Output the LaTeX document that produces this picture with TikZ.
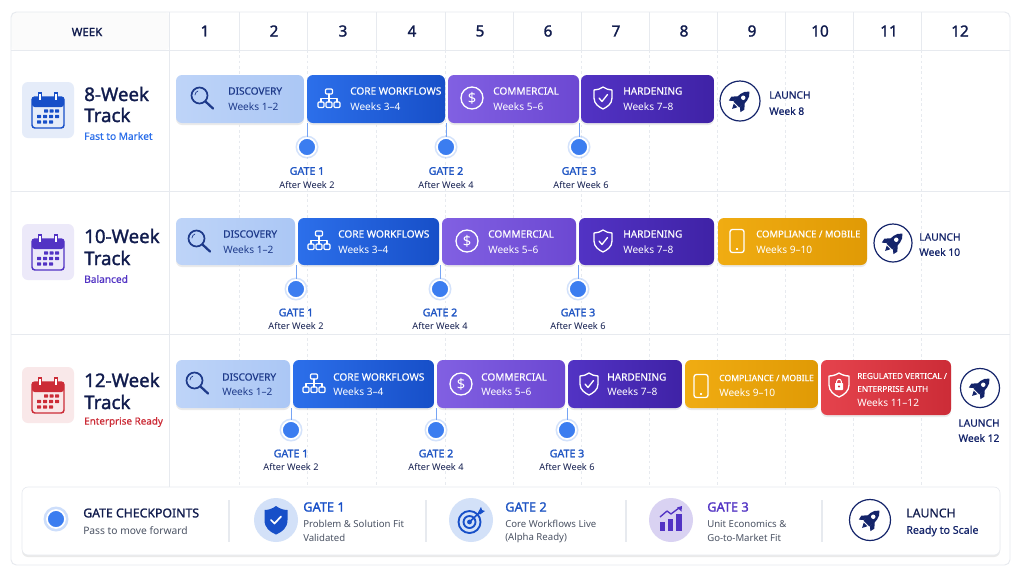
\documentclass[tikz,border=0pt]{standalone}
\usepackage{fontspec}
\setmainfont{Noto Sans}
\newfontfamily\med[FakeBold=0.6]{Noto Sans}
\newfontfamily\hvy[FakeBold=1.5]{Noto Sans}
\usetikzlibrary{shadows,calc}
\definecolor{navy}{HTML}{14246A}
\definecolor{ink}{HTML}{111C4E}
\definecolor{gridc}{HTML}{E7EAEF}
\definecolor{blueA}{HTML}{2C6FEA}\definecolor{blueB}{HTML}{174FC8}
\definecolor{skyA}{HTML}{BED4F8}\definecolor{skyB}{HTML}{ABC7F5}
\definecolor{purA}{HTML}{8160E2}\definecolor{purB}{HTML}{6C48D2}
\definecolor{vioA}{HTML}{5233C4}\definecolor{vioB}{HTML}{3F22A6}
\definecolor{ambA}{HTML}{F0AC12}\definecolor{ambB}{HTML}{E09A05}
\definecolor{redA}{HTML}{E5434D}\definecolor{redB}{HTML}{CC2C37}
\definecolor{dot}{HTML}{3B7DF0}
\definecolor{gatet}{HTML}{1F55C4}
\definecolor{discT}{HTML}{1E3A8A}
\definecolor{grayt}{HTML}{4A5263}
\definecolor{disc}{HTML}{D3E1F8}
\tikzset{
 x=0.75pt,y=-0.75pt,
 barbase/.style={rounded corners=4.5pt,inner sep=0pt,drop shadow={shadow xshift=0pt,shadow yshift=-1.5pt,opacity=.16}},
 sky/.style={barbase,left color=skyA,right color=skyB},
 blu/.style={barbase,left color=blueA,right color=blueB},
 pur/.style={barbase,left color=purA,right color=purB},
 vio/.style={barbase,left color=vioA,right color=vioB},
 amb/.style={barbase,left color=ambA,right color=ambB},
 rdd/.style={barbase,left color=redA,right color=redB},
 txt/.style={inner sep=0pt,anchor=west,align=left},
 ctxt/.style={inner sep=0pt,anchor=center,align=center},
 gridl/.style={draw=gridc,line width=.7pt},
 dashl/.style={draw=gridc,line width=.6pt,dash pattern=on 2pt off 2pt},
 gatedot/.style={circle,fill=dot,draw=white,line width=1.3pt,minimum size=13.5pt,inner sep=0pt},
 conn/.style={draw=dot!70,line width=.7pt},
 launchc/.style={circle,draw=navy,line width=.9pt,fill=white,inner sep=0pt},
 ic/.style={line width=1.1pt,line cap=round,line join=round},
}
\newcommand{\fsz}[1]{\fontsize{#1}{#1}\selectfont}
% name x y anchorstyle size colour text
\newcommand{\Lab}[7]{\node[#4] (#1) at (#2,#3) {\fsz{#5}\color{#6}#7};}
\newcommand{\Blk}[7]{% name x1 y1 x2 y2 style unused
 \pgfmathsetmacro{\bw}{(#4-#2)*0.75}\pgfmathsetmacro{\bh}{(#5-#3)*0.75}
 \pgfmathsetmacro{\bx}{(#2+#4)/2}\pgfmathsetmacro{\by}{(#3+#5)/2}
 \node[#6,minimum width=\bw pt,minimum height=\bh pt] (#1) at (\bx,\by) {};}
\newcommand{\BT}[6]{\Lab{#1a}{#2}{#3}{txt}{7.55}{#4}{\med #5}}
\newcommand{\Sub}[5]{\Lab{#1}{#2}{#3}{txt}{7.6}{#4}{#5}}
\newcommand{\Gate}[7]{% name x y bar labelY1 labelY2 text2
 \fill[dot,opacity=.22] (#2,#3) circle (11.5);
 \node[gatedot] (#1) at (#2,#3) {};
 \draw[conn] (#1.north) -- (#1.north |- #4.south);
 \Lab{#1a}{#2}{#5}{ctxt}{8}{gatet}{\hvy #7}
}
\newcommand{\GateSub}[4]{\Lab{#1}{#2}{#3}{ctxt}{6.9}{ink}{#4}}
\newcommand{\IMag}[3]{\begin{scope}[shift={(#1,#2)}]
 \draw[ic,#3,line width=1.3pt] (-2.5,-2.5) circle (8); \draw[ic,#3,line width=1.7pt] (3.5,3.5) -- (11,10.5);
 \draw[ic,#3,line width=.5pt] (-7,-3) .. controls (-7,-5) and (-5.5,-6.5) .. (-4,-7);\end{scope}}
\newcommand{\IHier}[3]{\begin{scope}[shift={(#1,#2)},ic,draw=#3,line width=.9pt]
 \draw[rounded corners=.8pt] (-3.5,-10) rectangle (3.5,-5);
 \draw (0,-5) -- (0,3) (-8,3) -- (-8,-.5) -- (8,-.5) -- (8,3);
 \foreach \q in {-8,0,8}{\draw[rounded corners=.8pt] (\q-3,3) rectangle (\q+3,8.5);}\end{scope}}
\newcommand{\IDol}[4]{\begin{scope}[shift={(#2,#3)}]
 \node[circle,draw=#4,line width=1pt,minimum size=16.5pt,inner sep=0pt] (#1) at (0,0) {\fsz{11}\color{#4}\$};\end{scope}}
\newcommand{\IShield}[3]{\begin{scope}[shift={(#1,#2)},ic,draw=#3,line width=1pt]
 \draw (0,-11) .. controls (3,-9) and (6,-8) .. (9,-8) -- (9,0) .. controls (9,6) and (4,9) .. (0,11) .. controls (-4,9) and (-9,6) .. (-9,0) -- (-9,-8) .. controls (-6,-8) and (-3,-9) .. (0,-11) -- cycle;
 \draw (-4,0) -- (-1,3.5) -- (4.5,-3.5);\end{scope}}
\newcommand{\IPhone}[2]{\begin{scope}[shift={(#1,#2)},ic,draw=white,line width=1pt]
 \draw[rounded corners=1.8pt] (-7,-11.5) rectangle (7,11.5);
 \draw (-.5,8) -- (.5,8);\end{scope}}
\newcommand{\ILock}[2]{\begin{scope}[shift={(#1,#2)},ic,draw=white,line width=1pt]
 \draw (0,-12) .. controls (3,-10) and (7,-9) .. (10,-9) -- (10,0) .. controls (10,6) and (5,10) .. (0,12) .. controls (-5,10) and (-10,6) .. (-10,0) -- (-10,-9) .. controls (-7,-9) and (-3,-10) .. (0,-12) -- cycle;
 \fill[white,rounded corners=.5pt] (-4,-2) rectangle (4,5);
 \draw[line width=.8pt] (-2.3,-2) -- (-2.3,-3.5) .. controls (-2.3,-6.5) and (2.3,-6.5) .. (2.3,-3.5) -- (2.3,-2);
 \fill[redB] (0,1.5) circle (1.1);\end{scope}}
\newcommand{\Rocket}[2]{\begin{scope}[shift={(#1,#2)},rotate=-45,scale=1.02]
 \fill[navy] (0,-13) .. controls (5.5,-9) and (5.5,-2) .. (4,5) -- (-4,5) .. controls (-5.5,-2) and (-5.5,-9) .. (0,-13) -- cycle;
 \fill[navy] (-4.6,-2) -- (-9,3) -- (-8,7.5) -- (-4,4) -- cycle;
 \fill[navy] (4.6,-2) -- (9,3) -- (8,7.5) -- (4,4) -- cycle;
 \fill[navy] (-2.5,6.2) -- (2.5,6.2) -- (0,11) -- cycle;
 \fill[white] (0,-4.5) circle (2.2);\end{scope}}
\newcommand{\Launch}[4]{\pgfmathsetmacro{\ds}{#4*.75}
 \node[launchc,minimum size=\ds pt] (#1) at (#2,#3) {};
 \Rocket{#2}{#3}}
\newcommand{\Cal}[3]{% x y colour
 \begin{scope}[shift={(#1,#2)}]
 \fill[#3!11,rounded corners=4.5pt] (-26,-28) rectangle (26,28);
 \fill[#3,rounded corners=2pt] (-16,-13) rectangle (16,-3);
 \draw[#3,line width=1.1pt,rounded corners=2.2pt] (-16,-13) rectangle (16,18);
 \foreach \q in {-8,8}{\fill[#3] (\q-1.8,-18) rectangle (\q+1.8,-9); \fill[white] (\q-.7,-16.5) rectangle (\q+.7,-10.5);}
 \foreach \q/\r in {-2/1,3.5/1,9/1,-9/6.5,-3/6.5,3/6.5,9/6.5,-9/12,-3/12,3/12}{\fill[#3,rounded corners=.4pt] (\q-2,\r-1.7) rectangle (\q+2,\r+1.7);}
 \end{scope}}
\begin{document}
\begin{tikzpicture}
\useasboundingbox (0,0) rectangle (1024,576);
\fill[white] (0,0) rectangle (1024,576);
% frame
\fill[white,rounded corners=4pt] (11,12) rectangle (1010,565);
\fill[black!1.5,rounded corners=3pt] (11,12) rectangle (169,50);
% grid
\foreach \q in {239,307,376,445,513,581,649,717,785,853,921}{
 \draw[gridl] (\q,12) -- (\q,50);
 \draw[dashl] (\q,50) -- (\q,487);}
\draw[gridl] (169,12) -- (169,487);
\draw[gridl] (11,50) -- (1010,50) (11,191) -- (1010,191) (11,334) -- (1010,334);
\draw[gridl,rounded corners=4pt] (11,12) rectangle (1010,565);
% header
\Lab{hw}{87}{32}{ctxt}{8.6}{ink}{\hvy WEEK}
\foreach \q/\n in {205/1,274/2,343/3,412/4,480/5,548/6,616/7,684/8,752/9,820/10,889/11,960/12}{
 \node[ctxt] (h\n) at (\q,31) {\fsz{11.5}\color{ink}\hvy \n};}
% row heads
\Cal{48}{110}{blueB}
\Lab{t1a}{84}{94}{txt}{14}{ink}{\hvy 8-Week}
\Lab{t1b}{84}{115}{txt}{14}{ink}{\hvy Track}
\Lab{t1c}{84}{136}{txt}{7.6}{blueA}{\med Fast to Market}
\Cal{48}{252}{vioA}
\Lab{t2a}{84}{236}{txt}{14}{ink}{\hvy 10-Week}
\Lab{t2b}{84}{258}{txt}{14}{ink}{\hvy Track}
\Lab{t2c}{84}{279}{txt}{7.6}{vioA}{\med Balanced}
\Cal{48}{395}{redB}
\Lab{t3a}{84}{380}{txt}{14}{ink}{\hvy 12-Week}
\Lab{t3b}{84}{402}{txt}{14}{ink}{\hvy Track}
\Lab{t3c}{84}{422}{txt}{7.4}{redB}{\med Enterprise Ready}
% ROW 1
\Blk{ra}{176}{75}{304}{123}{sky}{}
\Blk{rb}{307}{75}{445}{123}{blu}{}
\Blk{rc}{448}{75}{579}{123}{pur}{}
\Blk{rd}{581}{75}{714}{123}{vio}{}
\IMag{202}{98}{discT}
\BT{ra}{228}{91}{discT}{DISCOVERY}{}
\Sub{rab}{228}{107}{discT}{Weeks 1–2}
\IHier{329}{99}{white}
\BT{rb}{350}{91}{white}{CORE WORKFLOWS}{}
\Sub{rbb}{350}{107}{white}{Weeks 3–4}
\IDol{rci}{472}{98}{white}
\BT{rc}{493}{91}{white}{COMMERCIAL}{}
\Sub{rcb}{493}{107}{white}{Weeks 5–6}
\IShield{603}{98}{white}
\BT{rd}{623}{91}{white}{HARDENING}{}
\Sub{rdb}{623}{107}{white}{Weeks 7–8}
\Launch{rl}{740}{101}{40}
\Lab{rlt}{769}{95}{txt}{7.7}{navy}{\med LAUNCH}
\Lab{rlw}{769}{111}{txt}{7.7}{navy}{\med Week 8}
\Gate{g11}{307}{147}{ra}{171}{}{GATE 1}\GateSub{g11s}{307}{185}{After Week 2}
\Gate{g12}{446}{147}{rb}{171}{}{GATE 2}\GateSub{g12s}{446}{185}{After Week 4}
\Gate{g13}{579}{147}{rc}{171}{}{GATE 3}\GateSub{g13s}{581}{185}{After Week 6}
% ROW 2
\Blk{sa}{176}{218}{295}{265}{sky}{}
\Blk{sb}{298}{218}{439}{265}{blu}{}
\Blk{sc}{442}{218}{576}{265}{pur}{}
\Blk{sd}{579}{218}{714}{265}{vio}{}
\Blk{se}{718}{218}{867}{265}{amb}{}
\IMag{199}{241}{discT}
\BT{sa}{223}{234}{discT}{DISCOVERY}{}
\Sub{sab}{223}{250}{discT}{Weeks 1–2}
\IHier{319}{241}{white}
\BT{sb}{338}{234}{white}{CORE WORKFLOWS}{}
\Sub{sbb}{338}{250}{white}{Weeks 3–4}
\IDol{sci}{467}{241}{white}
\BT{sc}{488}{234}{white}{COMMERCIAL}{}
\Sub{scb}{488}{250}{white}{Weeks 5–6}
\IShield{603}{241}{white}
\BT{sd}{623}{234}{white}{HARDENING}{}
\Sub{sdb}{623}{250}{white}{Weeks 7–8}
\IPhone{737}{241}
\Lab{sea}{756}{234}{txt}{7.1}{white}{\med COMPLIANCE / MOBILE}
\Sub{seb}{756}{250}{white}{Weeks 9–10}
\Launch{sl}{893}{243}{38}
\Lab{slt}{919}{237}{txt}{7.7}{navy}{\med LAUNCH}
\Lab{slw}{919}{252}{txt}{7.7}{navy}{\med Week 10}
\Gate{g21}{296}{289}{sa}{312.5}{}{GATE 1}\GateSub{g21s}{296}{326.5}{After Week 2}
\Gate{g22}{440}{289}{sb}{312.5}{}{GATE 2}\GateSub{g22s}{440}{326.5}{After Week 4}
\Gate{g23}{578}{289}{sc}{312.5}{}{GATE 3}\GateSub{g23s}{578}{326.5}{After Week 6}
% ROW 3
\Blk{ua}{176}{360}{290}{408}{sky}{}
\Blk{ub}{293}{360}{434}{408}{blu}{}
\Blk{uc}{437}{360}{565}{408}{pur}{}
\Blk{ud}{568}{360}{682}{408}{vio}{}
\Blk{ue}{685}{360}{818}{408}{amb}{}
\Blk{uf}{821}{360}{951}{415}{rdd}{}
\IMag{197}{383}{discT}
\BT{ua}{222}{377}{discT}{DISCOVERY}{}
\Sub{uab}{222}{392}{discT}{Weeks 1–2}
\IHier{314}{384}{white}
\BT{ub}{333}{377}{white}{CORE WORKFLOWS}{}
\Sub{ubb}{333}{392}{white}{Weeks 3–4}
\IDol{uci}{461}{384}{white}
\BT{uc}{481}{377}{white}{COMMERCIAL}{}
\Sub{ucb}{481}{392}{white}{Weeks 5–6}
\IShield{589}{384}{white}
\BT{ud}{607}{377}{white}{HARDENING}{}
\Sub{udb}{607}{392}{white}{Weeks 7–8}
\IPhone{701}{386}
\Lab{uea}{719}{378}{txt}{6.45}{white}{\med COMPLIANCE / MOBILE}
\Sub{ueb}{719}{393}{white}{Weeks 9–10}
\ILock{839}{385}
\Lab{ufa}{857}{376}{txt}{6.15}{white}{\med REGULATED VERTICAL /}
\Lab{ufb}{857}{389}{txt}{6.15}{white}{\med ENTERPRISE AUTH}
\Sub{ufc}{857}{403}{white}{Weeks 11–12}
\Launch{ul}{980}{388}{39}
\Lab{ult}{979}{423}{ctxt}{7.7}{navy}{\med LAUNCH}
\Lab{ulw}{979}{438}{ctxt}{7.7}{navy}{\med Week 12}
\Gate{g31}{291}{430}{ua}{453.5}{}{GATE 1}\GateSub{g31s}{291}{467.5}{After Week 2}
\Gate{g32}{436}{430}{ub}{453.5}{}{GATE 2}\GateSub{g32s}{436}{467.5}{After Week 4}
\Gate{g33}{567}{430}{uc}{453.5}{}{GATE 3}\GateSub{g33s}{567}{467.5}{After Week 6}
% LEGEND
\Blk{lg}{22}{487}{1000}{555}{barbase,fill=white,draw=gridc,line width=.5pt}{}
\foreach \q in {229,426,626,822}{\draw[draw=gridc,line width=.8pt] (\q,500) -- (\q,542);}
\fill[dot,opacity=.25] (56,519) circle (12.5);
\node[gatedot] (ld) at (56,519) {};
\Lab{l1a}{83}{513}{txt}{9.2}{ink}{\hvy GATE CHECKPOINTS}
\Lab{l1b}{83}{531}{txt}{7.7}{grayt}{Pass to move forward}
% gate 1
\fill[disc] (276,520) circle (22);
\begin{scope}[shift={(276,520)}]
 \fill[blueB] (0,-14) .. controls (4,-11) and (8,-10) .. (11.5,-10) -- (11.5,0) .. controls (11.5,8) and (6,12) .. (0,14.5) .. controls (-6,12) and (-11.5,8) .. (-11.5,0) -- (-11.5,-10) .. controls (-8,-10) and (-4,-11) .. (0,-14) -- cycle;
 \draw[white,line width=1.3pt,line cap=round,line join=round] (-5,0) -- (-1.5,3.5) -- (5,-3.5);
\end{scope}
\Lab{l2a}{303}{507}{txt}{9.6}{blueB}{\hvy GATE 1}
\Lab{l2b}{303}{523.5}{txt}{7.2}{grayt}{Problem \& Solution Fit}
\Lab{l2c}{303}{538}{txt}{7.2}{grayt}{Validated}
% gate 2
\fill[disc] (471,520) circle (22);
\begin{scope}[shift={(471,520)}]
 \draw[blueB,line width=1.4pt] (-1.5,2) circle (11);
 \draw[blueB,line width=1.4pt] (-1.5,2) circle (6);
 \fill[blueB] (-1.5,2) circle (2.4);
 \draw[blueB,line width=1.2pt,line cap=round] (-1.5,2) -- (10,-9);
 \fill[blueB] (7,-7.5) -- (10,-13) -- (11,-10) -- (14,-9) -- (9,-5.5) -- cycle;
\end{scope}
\Lab{l3a}{505}{507}{txt}{9.6}{gatet}{\hvy GATE 2}
\Lab{l3b}{505}{523.5}{txt}{7.2}{grayt}{Core Workflows Live}
\Lab{l3c}{505}{538}{txt}{7.2}{grayt}{(Alpha Ready)}
% gate 3
\fill[vioA!22] (671,520) circle (22);
\begin{scope}[shift={(671,520)}]
 \fill[vioA] (-11,2) rectangle (-6,11);
 \fill[vioA] (-3,-1) rectangle (2,11);
 \fill[vioA] (5,-6) rectangle (11,11);
 \draw[vioA,line width=1pt,line join=round] (-11,-3) -- (-4,-9) -- (0,-6) -- (8,-12);
 \fill[vioA] (11,-14) -- (10.5,-8.5) -- (6,-12.5) -- cycle;
\end{scope}
\Lab{l4a}{707}{507}{txt}{9.6}{vioA}{\hvy GATE 3}
\Lab{l4b}{707}{523.5}{txt}{7.2}{grayt}{Unit Economics \&}
\Lab{l4c}{707}{538}{txt}{7.2}{grayt}{Go-to-Market Fit}
% launch
\Launch{ll}{870}{520}{41}
\Lab{l5a}{906}{513}{txt}{9.2}{ink}{\med LAUNCH}
\Lab{l5b}{906}{531}{txt}{8}{navy}{\med Ready to Scale}
\end{tikzpicture}
\end{document}
